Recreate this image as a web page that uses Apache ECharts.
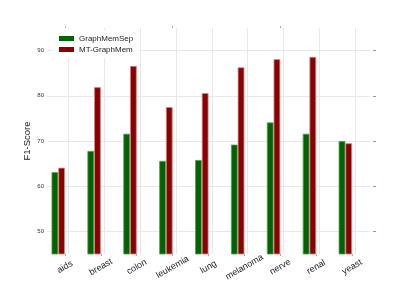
<!DOCTYPE html>
<html><head><meta charset="utf-8">
<script src="https://cdn.jsdelivr.net/npm/echarts@6/dist/echarts.min.js"></script>
<style>html,body{margin:0;padding:0;background:#fff}#c{width:415px;height:290px}</style>
</head><body><div id="c"></div>
<script>
var categories = ['aids','breast','colon','leukemia','lung','melanoma','nerve','renal','yeast'];
var graphMemSep = [63.1, 67.8, 71.6, 65.6, 65.8, 69.2, 74.1, 71.6, 70.0];
var mtGraphMem = [64.1, 81.9, 86.6, 77.5, 80.6, 86.3, 88.1, 88.6, 69.5];
var yTicks = [50, 60, 70, 80, 90];

var font = 'Liberation Sans, Arial, sans-serif';
var gridColor = '#e8e8e8';
var empty = categories.map(function(){ return null; });
var chart = echarts.init(document.getElementById('c'), null, {renderer:'canvas'});
var vLines = categories.map(function(c){ return {xAxis: c, label: {show: false}}; });
var hLines = yTicks.map(function(v){
  return {yAxis: v, label: {show: true, position: 'start', distance: 3,
    formatter: String(v), fontFamily: font, fontSize: 6, color: '#333'}};
});

chart.setOption({
  animation: false,
  backgroundColor: '#fff',
  grid: {left: 47, width: 323, top: 28, height: 226},
  legend: {
    data: [
      {name: 'GraphMemSep', itemStyle: {borderWidth: 0}},
      {name: 'MT-GraphMem', itemStyle: {borderWidth: 0}}
    ],
    orient: 'vertical', left: 53, top: 30,
    itemWidth: 15, itemHeight: 5, itemGap: 2,
    backgroundColor: '#fff', padding: [4, 6],
    icon: 'rect',
    textStyle: {fontFamily: font, fontSize: 8, color: '#222', lineHeight: 9}
  },
  xAxis: [{
    type: 'category', data: categories, position: 'bottom',
    axisLine: {show: false},
    axisTick: {show: true, alignWithLabel: true, length: 2, lineStyle: {color: '#aaa'}},
    axisLabel: {rotate: 30, align: 'center', verticalAlign: 'middle', margin: 13,
      fontFamily: font, fontSize: 9, color: '#222', interval: 0},
    splitLine: {show: false}
  }, {
    type: 'category', data: categories, position: 'top',
    axisLine: {show: false},
    axisTick: {show: true, alignWithLabel: true, length: 2, lineStyle: {color: '#aaa'}},
    axisLabel: {show: false},
    splitLine: {show: false}
  }],
  yAxis: [{
    type: 'value', min: 45, max: 95, position: 'left',
    name: 'F1-Score', nameLocation: 'middle', nameGap: 15, nameRotate: 90,
    nameMoveOverlap: false,
    nameTextStyle: {fontFamily: font, fontSize: 9.5, color: '#222'},
    axisLine: {show: false},
    axisTick: {show: true, inside: true, length: 4, customValues: yTicks, lineStyle: {color: '#999'}},
    axisLabel: {show: false},
    splitLine: {show: false}
  }, {
    type: 'value', min: 45, max: 95, position: 'right', offset: 3,
    axisLine: {show: false},
    axisTick: {show: true, length: 3, customValues: yTicks, lineStyle: {color: '#999'}},
    axisLabel: {show: false},
    splitLine: {show: false}
  }],
  series: [{
    name: 'GraphMemSep', type: 'bar', data: graphMemSep, barWidth: 6.7, barGap: 0, z: 3,
    itemStyle: {color: '#006400', borderColor: '#5c9a5c', borderWidth: 0.8}
  }, {
    name: 'MT-GraphMem', type: 'bar', data: mtGraphMem, barWidth: 6.7, barGap: 0, z: 3,
    itemStyle: {color: '#8b0000', borderColor: '#cc8c8c', borderWidth: 0.8}
  }, {
    name: 'd1', type: 'bar', data: empty, barWidth: 6.7, barGap: 0, z: 1,
    markLine: {silent: true, symbol: 'none', z: 1, animation: false,
      lineStyle: {color: gridColor, width: 1, type: 'solid'},
      data: vLines.concat(hLines)}
  }, {
    name: 'd2', type: 'bar', data: empty, barWidth: 6.7, barGap: 0
  }]
});
</script></body></html>
